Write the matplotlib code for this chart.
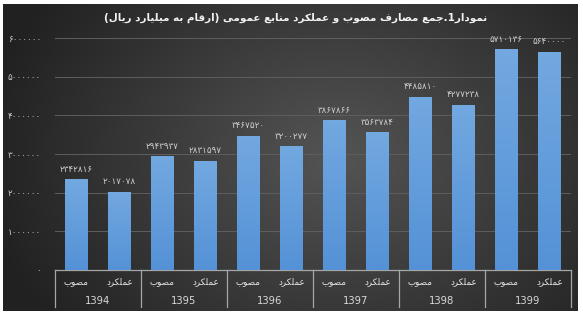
import numpy as np
import matplotlib
matplotlib.use("Agg")
import matplotlib.pyplot as plt
from matplotlib.transforms import blended_transform_factory

# ---- data -------------------------------------------------------------
years = ["1394", "1395", "1396", "1397", "1398", "1399"]
kinds = ["مصوب", "عملکرد"]
approved = [2342816, 2943937, 3467520, 3867866, 4485810, 5710136]
actual = [2017078, 2831597, 3200277, 3563784, 4277238, 5640000]
yticks = [0, 1000000, 2000000, 3000000, 4000000, 5000000, 6000000]
title = "نمودار1.جمع مصارف مصوب و عملکرد منابع عمومی (ارقام به میلیارد ریال)"

# ---- minimal Arabic/Persian shaping (matplotlib has no bidi support) --
FORMS = {
    "ا": ("\uFE8D", "\uFE8E", None, None),
    "ب": ("\uFE8F", "\uFE90", "\uFE91", "\uFE92"),
    "ج": ("\uFE9D", "\uFE9E", "\uFE9F", "\uFEA0"),
    "د": ("\uFEA9", "\uFEAA", None, None),
    "ر": ("\uFEAD", "\uFEAE", None, None),
    "ص": ("\uFEB9", "\uFEBA", "\uFEBB", "\uFEBC"),
    "ع": ("\uFEC9", "\uFECA", "\uFECB", "\uFECC"),
    "ف": ("\uFED1", "\uFED2", "\uFED3", "\uFED4"),
    "ق": ("\uFED5", "\uFED6", "\uFED7", "\uFED8"),
    "ک": ("\uFB8E", "\uFB8F", "\uFB90", "\uFB91"),
    "ل": ("\uFEDD", "\uFEDE", "\uFEDF", "\uFEE0"),
    "م": ("\uFEE1", "\uFEE2", "\uFEE3", "\uFEE4"),
    "ن": ("\uFEE5", "\uFEE6", "\uFEE7", "\uFEE8"),
    "ه": ("\uFEE9", "\uFEEA", "\uFEEB", "\uFEEC"),
    "و": ("\uFEED", "\uFEEE", None, None),
    "ی": ("\uFBFC", "\uFBFD", "\uFBFE", "\uFBFF"),
}
MIRROR = {"(": ")", ")": "("}


def rtl(text):
    chars = list(text)
    out = []
    for i, c in enumerate(chars):
        if c not in FORMS:
            out.append(MIRROR.get(c, c))
            continue
        prev = chars[i - 1] if i > 0 else None
        nxt = chars[i + 1] if i + 1 < len(chars) else None
        join_prev = prev in FORMS and FORMS[prev][2] is not None
        join_next = nxt in FORMS and FORMS[c][2] is not None
        iso, fin, ini, med = FORMS[c]
        if join_prev and join_next:
            out.append(med)
        elif join_prev:
            out.append(fin)
        elif join_next:
            out.append(ini)
        else:
            out.append(iso)
    # visual order: reverse, keeping digit runs left-to-right
    vis = []
    run = []
    for c in reversed(out):
        if c.isdigit():
            run.append(c)
        else:
            if run:
                vis.extend(reversed(run))
                run = []
            vis.append(c)
    if run:
        vis.extend(reversed(run))
    return "".join(vis)


FA_DIGITS = str.maketrans("0123456789", "۰۱۲۳۴۵۶۷۸۹")


def fa_num(v):
    return str(int(v)).translate(FA_DIGITS)


# ---- figure -----------------------------------------------------------
W, H = 583, 317
fig = plt.figure(figsize=(W / 100, H / 100), dpi=100)
fig.patch.set_facecolor("white")

# dark radial backdrop
bg = fig.add_axes([3 / W, 6 / H, 575 / W, 307 / H])
bg.set_axis_off()
gx, gy = np.meshgrid(np.linspace(0, 1, 400), np.linspace(0, 1, 220))
r = np.sqrt(((gx - 0.58) / 0.62) ** 2 + ((gy - 0.5) / 0.9) ** 2)
r = np.clip(r, 0, 1)
lo, hi = np.array([0.13, 0.13, 0.13]), np.array([0.33, 0.33, 0.33])
img = hi[None, None, :] * (1 - r[..., None]) + lo[None, None, :] * r[..., None]
bg.imshow(img, aspect="auto", extent=[0, 1, 0, 1], origin="lower")
bg.set_xlim(0, 1)
bg.set_ylim(0, 1)

ax = fig.add_axes([55 / W, (H - 270) / H, 516 / W, 232 / H])
ax.patch.set_alpha(0)

n = len(years)
pos = np.arange(2 * n)
vals = []
labels = []
for a, b in zip(approved, actual):
    vals += [a, b]
    labels += kinds

bars = ax.bar(pos, vals, width=0.52, color="#5b9bd5", zorder=3)

# soft vertical shading on each bar
shade = np.linspace(0.0, 1.0, 64)[:, None]
top_c = np.array([0.45, 0.66, 0.88])
bot_c = np.array([0.33, 0.57, 0.84])
grad = (bot_c[None, None, :] * (1 - shade[..., None]) + top_c[None, None, :] * shade[..., None])
for bar in bars:
    x0, y0 = bar.get_x(), bar.get_y()
    w, h = bar.get_width(), bar.get_height()
    im = ax.imshow(grad, extent=[x0, x0 + w, y0, y0 + h], origin="lower",
                   aspect="auto", zorder=3.5)
    im.set_clip_path(bar)

for p, v in zip(pos, vals):
    ax.annotate(fa_num(v), (p, v), xytext=(0, 4), textcoords="offset points",
                ha="center", va="bottom", fontsize=6.3, color="#d0d0d0",
                family="DejaVu Sans", zorder=5)

ax.set_xlim(-0.5, 2 * n - 0.5)
ax.set_ylim(0, 6000000)
ax.set_yticks(yticks)
ax.set_yticklabels([fa_num(t) for t in yticks], fontsize=6.3, color="#cfcfcf",
                   family="DejaVu Sans")
ax.tick_params(axis="y", length=0, pad=10)
ax.set_xticks([])
ax.grid(axis="y", color="#5e5e5e", linewidth=0.7, zorder=0)
for s in ["top", "right", "left"]:
    ax.spines[s].set_visible(False)
ax.spines["bottom"].set_color("#a6a6a6")
ax.spines["bottom"].set_linewidth(0.9)

# two-level category axis
tr = blended_transform_factory(ax.transData, ax.transAxes)
for p, lab in zip(pos, labels):
    ax.text(p, -0.05, rtl(lab), transform=tr, ha="center", va="center",
            fontsize=6.3, color="#e6e6e6", family="DejaVu Sans")
for i, yr in enumerate(years):
    ax.text(2 * i + 0.5, -0.132, yr, transform=tr, ha="center", va="center",
            fontsize=7.2, color="#d9d9d9", family="DejaVu Sans")
for k in range(n + 1):
    xs = 2 * k - 0.5
    ax.plot([xs, xs], [0, -0.16], transform=tr, color="#a6a6a6",
            linewidth=0.9, clip_on=False, zorder=4)

fig.text(296 / W, 1 - 18 / H, rtl(title), ha="center", va="center",
         fontsize=7.5, fontweight="bold", color="#f2f2f2", family="DejaVu Sans")

fig.savefig("out.png", dpi=100, facecolor=fig.get_facecolor())
